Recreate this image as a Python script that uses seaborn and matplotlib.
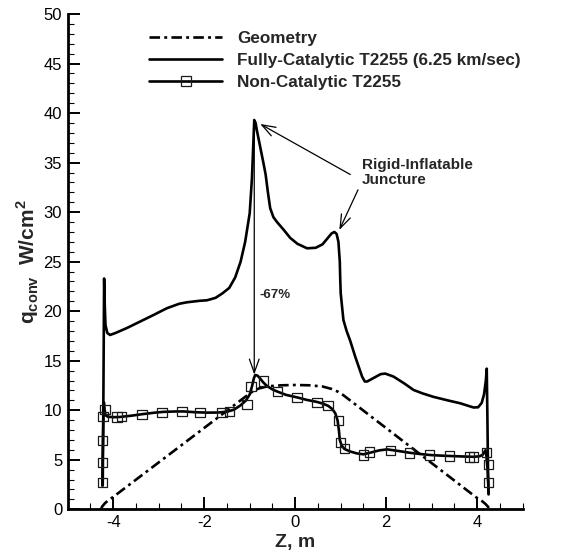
import matplotlib
matplotlib.use("Agg")
import matplotlib.pyplot as plt
from matplotlib.lines import Line2D
from matplotlib.ticker import MultipleLocator
import numpy as np
import pandas as pd
import seaborn as sns

# Vehicle surface geometry (scaled), dash-dot outline
geom_z = [-4.27, -4.24, -4.18, -4.10, -4.00, -1.10, -0.95, -0.80, -0.60, -0.30, 0.00,
          0.30, 0.60, 0.80, 0.95, 1.05, 3.98, 4.10, 4.18, 4.24, 4.27]
geom_q = [0.00, 0.30, 0.62, 0.95, 1.25, 11.35, 11.85, 12.20, 12.42, 12.52, 12.55,
          12.52, 12.40, 12.15, 11.85, 11.55, 1.20, 0.85, 0.55, 0.25, 0.00]

# Fully-catalytic heating, T2255 (6.25 km/sec)
fc_z = [-4.23, -4.215, -4.20, -4.185, -4.17, -4.13, -4.07, -3.95, -3.70, -3.41, -3.10,
        -2.82, -2.55, -2.38, -2.10, -1.94, -1.75, -1.60, -1.45, -1.32, -1.20, -1.10,
        -1.00, -0.95, -0.92, -0.90, -0.87, -0.84, -0.77, -0.70, -0.65, -0.60, -0.55,
        -0.48, -0.40, -0.25, -0.11, 0.05, 0.26, 0.45, 0.60, 0.70, 0.80, 0.86, 0.91,
        0.95, 0.98, 0.99, 1.00, 1.06, 1.13, 1.21, 1.32, 1.47, 1.53, 1.58, 1.72, 1.88,
        1.98, 2.16, 2.40, 2.60, 2.80, 3.04, 3.35, 3.63, 3.80, 3.92, 4.02, 4.10, 4.15,
        4.19, 4.21, 4.225, 4.24, 4.25]
fc_q = [2.4, 12.0, 23.3, 20.5, 18.6, 17.8, 17.6, 17.8, 18.3, 18.95, 19.65,
        20.3, 20.75, 20.9, 21.05, 21.1, 21.35, 21.8, 22.35, 23.4, 25.0, 27.0,
        29.9, 33.5, 37.0, 39.3, 39.0, 38.2, 36.6, 35.0, 33.8, 32.0, 30.4,
        29.5, 29.0, 28.2, 27.4, 26.8, 26.35, 26.4, 26.75, 27.3, 27.85, 28.0, 27.8,
        27.0, 25.0, 23.2, 21.8, 19.1, 18.0, 17.0, 15.4, 13.4, 12.9, 12.9, 13.25, 13.65,
        13.7, 13.4, 12.7, 12.05, 11.7, 11.35, 11.0, 10.7, 10.45, 10.28, 10.3, 10.75, 11.6,
        13.0, 14.2, 9.0, 3.0, 1.5]

# Non-catalytic heating, T2255 (solid curve)
nc_z = [-4.24, -4.235, -4.225, -4.215, -4.205, -4.19, -4.17, -4.12, -4.00, -3.86, -3.60,
        -3.37, -3.10, -2.89, -2.60, -2.45, -2.20, -1.94, -1.70, -1.50, -1.35, -1.20,
        -1.08, -1.00, -0.95, -0.91, -0.88, -0.83, -0.77, -0.70, -0.62, -0.50, -0.40,
        -0.20, 0.04, 0.25, 0.48, 0.62, 0.73, 0.82, 0.88, 0.93, 0.96, 0.98, 1.02, 1.08,
        1.20, 1.35, 1.50, 1.65, 1.85, 2.02, 2.25, 2.53, 2.75, 2.97, 3.20, 3.41, 3.70,
        3.92, 4.05, 4.12, 4.18, 4.20, 4.23, 4.245, 4.25]
nc_q = [2.4, 4.7, 7.0, 9.5, 10.8, 10.1, 9.5, 9.35, 9.3, 9.32, 9.45,
        9.6, 9.75, 9.84, 9.88, 9.88, 9.8, 9.76, 9.77, 9.85, 10.05, 10.5,
        11.0, 11.6, 12.4, 13.2, 13.56, 13.5, 13.2, 12.8, 12.45, 12.1, 11.9,
        11.55, 11.3, 11.05, 10.84, 10.65, 10.43, 10.1, 9.7, 9.0, 8.0, 7.0, 6.45, 6.1,
        5.85, 5.65, 5.55, 5.72, 5.95, 6.05, 5.9, 5.7, 5.58, 5.48, 5.42, 5.38, 5.33,
        5.3, 5.35, 5.5, 5.95, 5.5, 4.0, 2.5, 1.6]

# Non-catalytic solution points (open squares)
nc_pts_z = [-4.235, -4.235, -4.23, -4.225, -4.18, -3.92, -3.82, -3.37, -2.93, -2.49,
            -2.09, -1.61, -1.45, -1.06, -0.97, -0.70, -0.39, 0.04, 0.48, 0.72, 0.95,
            1.00, 1.08, 1.50, 1.63, 2.10, 2.51, 2.95, 3.39, 3.83, 3.92, 4.20, 4.25, 4.25]
nc_pts_q = [2.7, 4.7, 6.93, 9.35, 10.1, 9.3, 9.35, 9.6, 9.8, 9.86,
            9.76, 9.76, 9.9, 10.6, 12.4, 12.95, 11.9, 11.3, 10.8, 10.47, 8.96,
            6.75, 6.15, 5.5, 5.77, 5.94, 5.7, 5.48, 5.38, 5.3, 5.3, 5.76, 4.5, 2.7]

legend_labels = ["Geometry", "Fully-Catalytic T2255 (6.25 km/sec)", "Non-Catalytic T2255"]

sns.set_theme(style="ticks")
plt.rcParams["font.family"] = ["Liberation Sans", "DejaVu Sans"]
plt.rcParams["mathtext.fontset"] = "custom"
plt.rcParams["mathtext.rm"] = "Liberation Sans"
plt.rcParams["mathtext.bf"] = "Liberation Sans:bold"
plt.rcParams["axes.unicode_minus"] = False

fig = plt.figure(figsize=(5.71, 5.59), dpi=100)
ax = fig.add_axes([0.1186, 0.0889, 0.7968, 0.886])

lw = 1.9
geom_df = pd.DataFrame({"z": geom_z, "q": geom_q})
fc_df = pd.DataFrame({"z": fc_z, "q": fc_q})
nc_df = pd.DataFrame({"z": nc_z, "q": nc_q})
pts_df = pd.DataFrame({"z": nc_pts_z, "q": nc_pts_q})

dashdot = (4.0, 1.6, 1.1, 1.6)

sns.lineplot(data=geom_df, x="z", y="q", sort=False, estimator=None, color="black",
             linewidth=lw, ax=ax)
ax.lines[-1].set_dashes(dashdot)
sns.lineplot(data=fc_df, x="z", y="q", sort=False, estimator=None, color="black",
             linewidth=lw, ax=ax)
sns.lineplot(data=nc_df, x="z", y="q", sort=False, estimator=None, color="black",
             linewidth=lw, ax=ax)
sns.scatterplot(data=pts_df, x="z", y="q", marker="s", s=46, facecolor="none",
                edgecolor="#1a1a1a", linewidth=0.9, ax=ax, zorder=4)

ax.set_xlim(-5, 5)
ax.set_ylim(0, 50)
ax.xaxis.set_major_locator(MultipleLocator(2))
ax.xaxis.set_minor_locator(MultipleLocator(0.5))
ax.yaxis.set_major_locator(MultipleLocator(5))
ax.yaxis.set_minor_locator(MultipleLocator(1))
ax.tick_params(which="major", direction="in", length=8.5, width=1.4, color="black",
               labelsize=12, pad=4, labelcolor="black")
ax.tick_params(which="minor", direction="in", length=4.6, width=0.8, color="black")
for side in ("top", "right"):
    ax.spines[side].set_visible(False)
for side in ("left", "bottom"):
    ax.spines[side].set_linewidth(2.0)
    ax.spines[side].set_color("black")

ax.set_xlabel("Z, m", fontsize=14, fontweight="bold", labelpad=3)
ax.set_ylabel(r"$\mathbf{q}_{\mathbf{conv}}$  W/cm$^{\mathbf{2}}$", fontsize=15,
              fontweight="bold", labelpad=2)

handles = [
    Line2D([], [], color="black", linewidth=lw, dashes=dashdot),
    Line2D([], [], color="black", linewidth=lw),
    Line2D([], [], color="black", linewidth=lw, marker="s", markersize=6.5,
           markerfacecolor="none", markeredgecolor="#1a1a1a", markeredgewidth=0.9),
]
ax.legend(handles, legend_labels, loc="upper left", bbox_to_anchor=(0.1787, 0.966),
          frameon=False, prop={"weight": "bold", "size": 12.3}, handlelength=4.3,
          handletextpad=0.85, labelspacing=0.4, borderpad=0, borderaxespad=0)

# Juncture call-outs
arrow_kw = dict(arrowstyle="->,head_length=0.7,head_width=0.25", color="black",
                linewidth=0.9, shrinkA=0, shrinkB=0, mutation_scale=14)
ax.annotate("", xy=(-0.77, 38.9), xytext=(1.21, 33.8), arrowprops=arrow_kw)
ax.annotate("", xy=(0.97, 28.2), xytext=(1.38, 32.25), arrowprops=arrow_kw)
ax.text(1.47, 34.0, "Rigid-Inflatable\nJuncture", fontsize=11, fontweight="bold",
        ha="left", va="center", linespacing=1.15)

# Peak reduction from fully- to non-catalytic
ax.annotate("", xy=(-0.90, 13.6), xytext=(-0.90, 39.3), arrowprops=arrow_kw)
ax.text(-0.79, 21.6, "-67%", fontsize=9.5, fontweight="bold", ha="left", va="center")

fig.savefig("out.png", dpi=100)
